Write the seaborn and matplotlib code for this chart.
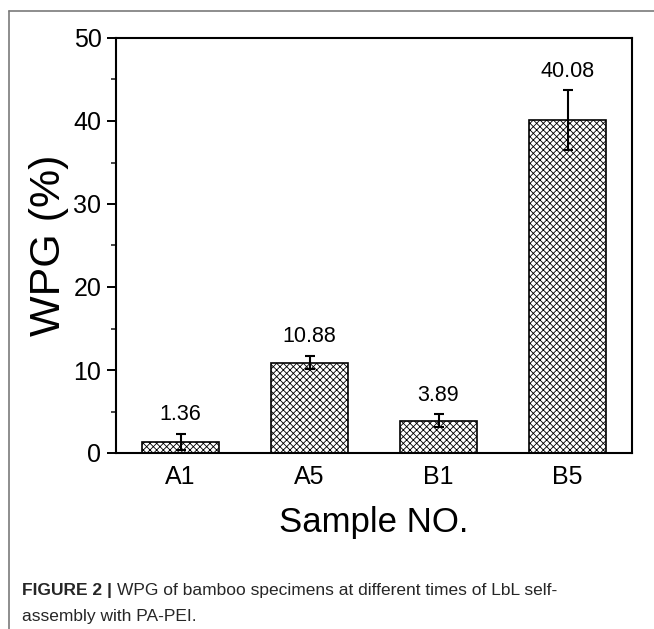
import matplotlib
matplotlib.use("Agg")
import matplotlib.pyplot as plt
from matplotlib import font_manager
from matplotlib.ticker import MultipleLocator
from matplotlib.lines import Line2D
import seaborn as sns
import pandas as pd

samples = ["A1", "A5", "B1", "B5"]
wpg = [1.36, 10.88, 3.89, 40.08]
wpg_err = [0.95, 0.8, 0.75, 3.6]
value_labels = ["1.36", "10.88", "3.89", "40.08"]

sns.set_theme(style="ticks")
names = {f.name for f in font_manager.fontManager.ttflist}
base = "Liberation Sans" if "Liberation Sans" in names else "DejaVu Sans"
narrow = "Liberation Sans Narrow" if "Liberation Sans Narrow" in names else base
plt.rcParams["font.family"] = [base, "DejaVu Sans"]
plt.rcParams["hatch.color"] = "#a8a8a8"
plt.rcParams["hatch.linewidth"] = 0.6

df = pd.DataFrame({"Sample": samples, "WPG": wpg})

fig = plt.figure(figsize=(6.54, 6.29), dpi=100)
ax = fig.add_axes([116/654, 1-453/629, (632-116)/654, (453-38)/629])

sns.barplot(data=df, x="Sample", y="WPG", ax=ax, color="white",
            edgecolor="black", linewidth=1.2, width=0.6, errorbar=None)
for p in ax.patches:
    p.set_hatch("xxxxx")
    p.set_facecolor("white")
    p.set_edgecolor("black")

ax.errorbar(range(len(samples)), wpg, yerr=wpg_err, fmt="none",
            ecolor="black", elinewidth=1.5, capsize=3.3, capthick=1.5, zorder=5)
for i, (v, e, t) in enumerate(zip(wpg, wpg_err, value_labels)):
    ax.annotate(t, (i, v + e), xytext=(0, 14), textcoords="offset points",
                ha="center", va="center", fontsize=15.5, color="black")

ax.set_ylim(0, 50)
ax.set_xlim(-0.5, 3.5)
ax.yaxis.set_major_locator(MultipleLocator(10))
ax.yaxis.set_minor_locator(MultipleLocator(5))
ax.tick_params(axis="y", which="major", length=6.5, width=1.4, direction="out",
               labelsize=18, colors="black", pad=4)
ax.tick_params(axis="y", which="minor", length=3.5, width=1.2, direction="out")
ax.tick_params(axis="x", length=0, labelsize=18, pad=9, colors="black")
for s in ax.spines.values():
    s.set_visible(True)
    s.set_linewidth(1.5)
    s.set_color("black")
ax.set_ylabel("WPG (%)", fontsize=31, labelpad=3, color="black")
ax.set_xlabel("Sample NO.", fontsize=25, labelpad=12, color="black")

# page frame lines
fig.add_artist(Line2D([9/654, 1], [1-11/629, 1-11/629], transform=fig.transFigure,
                      color="#7a7a7a", lw=1.2))
fig.add_artist(Line2D([9/654, 9/654], [0, 1-11/629], transform=fig.transFigure,
                      color="#7a7a7a", lw=1.2))

# caption
y1 = 1 - 591/629
t1 = fig.text(22/654, y1, "FIGURE 2 | ", fontsize=12.5, fontweight="bold",
              family=[narrow, base], va="center", ha="left")
fig.canvas.draw()
bb = t1.get_window_extent()
fig.text(bb.x1/654, y1, "WPG of bamboo specimens at different times of LbL self-",
         fontsize=12.5, family=[narrow, base], va="center", ha="left")
fig.text(22/654, 1 - 617/629, "assembly with PA-PEI.", fontsize=12.5,
         family=[narrow, base], va="center", ha="left")

fig.savefig("out.png", dpi=100)
